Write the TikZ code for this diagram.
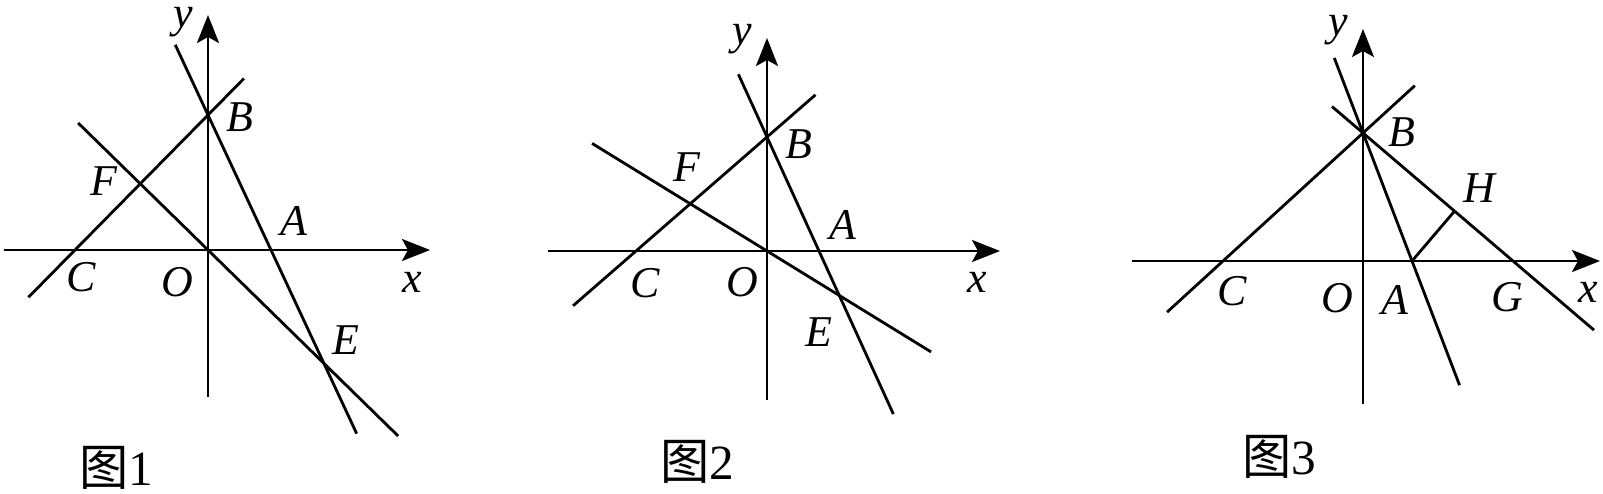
\documentclass[tikz,border=0pt]{standalone}
\usepackage{fontspec}
\setmainfont{Liberation Serif}
\newfontfamily\cjk{Noto Sans CJK SC}
\usetikzlibrary{arrows.meta,calc}
\begin{document}
\begin{tikzpicture}[x=0.01cm,y=-0.01cm,line width=0.8pt,
  axis/.style={-{Stealth[length=2.8mm,width=2.2mm,inset=0.6mm]}},
  lbl/.style={font=\fontsize{12.5}{15}\selectfont\itshape,inner sep=0pt},
  figcap/.style={font=\fontsize{14}{16}\selectfont,inner sep=0pt}]
\useasboundingbox (0,0) rectangle (1603,494);

% Figure 1
\coordinate (O1) at (208,250);
\coordinate (B1) at (208,115);
\coordinate (A1) at (271,250);
\coordinate (C1) at (75,250);
\coordinate (E1) at ($(B1)!1.84!(A1)$);
\coordinate (F1) at (intersection of O1--E1 and C1--B1);
\draw[axis] (4,250) -- (430,250);
\draw[axis] (208,397) -- (208,15);
\draw ($(B1)!-0.52!(A1)$) -- ($(B1)!2.36!(A1)$);
\draw ($(C1)!-0.35!(B1)$) -- ($(C1)!1.27!(B1)$);
\draw ($(O1)!-1.12!(E1)$) -- ($(O1)!1.64!(E1)$);
\foreach \n/\t/\x/\y in {y1/y/183/22,B1l/B/240/117,F1l/F/104/181,A1l/A/294/221,
  C1l/C/81/277,O1l/O/177/282,x1/x/412/282,E1l/E/346/340}
  \node[lbl] (\n) at (\x,\y) {\t};
\node[figcap] (cap1) at (116,468) {{\cjk 图}1};

% Figure 2
\coordinate (O2) at (767,251);
\coordinate (B2) at (767,137);
\coordinate (A2) at (819,251);
\coordinate (C2) at (636,251);
\coordinate (E2) at ($(B2)!1.39!(A2)$);
\coordinate (F2) at (intersection of O2--E2 and C2--B2);
\draw[axis] (548,251) -- (1000,251);
\draw[axis] (767,400) -- (767,38);
\draw ($(B2)!-0.55!(A2)$) -- ($(B2)!2.43!(A2)$);
\draw ($(C2)!-0.48!(B2)$) -- ($(C2)!1.37!(B2)$);
\draw ($(O2)!-2.42!(E2)$) -- ($(O2)!2.27!(E2)$);
\foreach \n/\t/\x/\y in {y2/y/742/39,B2l/B/799/144,F2l/F/687/167,A2l/A/843/225,
  C2l/C/645/283,O2l/O/742/282,x2/x/977/282,E2l/E/819/332}
  \node[lbl] (\n) at (\x,\y) {\t};
\node[figcap] (cap2) at (697,462) {{\cjk 图}2};

% Figure 3
\coordinate (O3) at (1363,261);
\coordinate (B3) at (1363,133);
\coordinate (A3) at (1412,261);
\coordinate (C3) at (1223,261);
\coordinate (G3) at (1513,261);
\coordinate (H3) at ($(B3)!(A3)!(G3)$);
\draw[axis] (1132,261) -- (1600,261);
\draw[axis] (1363,404) -- (1363,29);
\draw ($(C3)!-0.4!(B3)$) -- ($(C3)!1.37!(B3)$);
\draw ($(B3)!-0.207!(G3)$) -- ($(B3)!1.54!(G3)$);
\draw ($(B3)!-0.586!(A3)$) -- ($(B3)!1.97!(A3)$);
\draw (A3) -- (H3);
\foreach \n/\t/\x/\y in {y3/y/1338/30,B3l/B/1402/132,H3l/H/1479/188,C3l/C/1232/291,
  O3l/O/1337/298,A3l/A/1395/300,G3l/G/1507/297,x3/x/1588/292}
  \node[lbl] (\n) at (\x,\y) {\t};
\node[figcap] (cap3) at (1279,457) {{\cjk 图}3};
\end{tikzpicture}
\end{document}
